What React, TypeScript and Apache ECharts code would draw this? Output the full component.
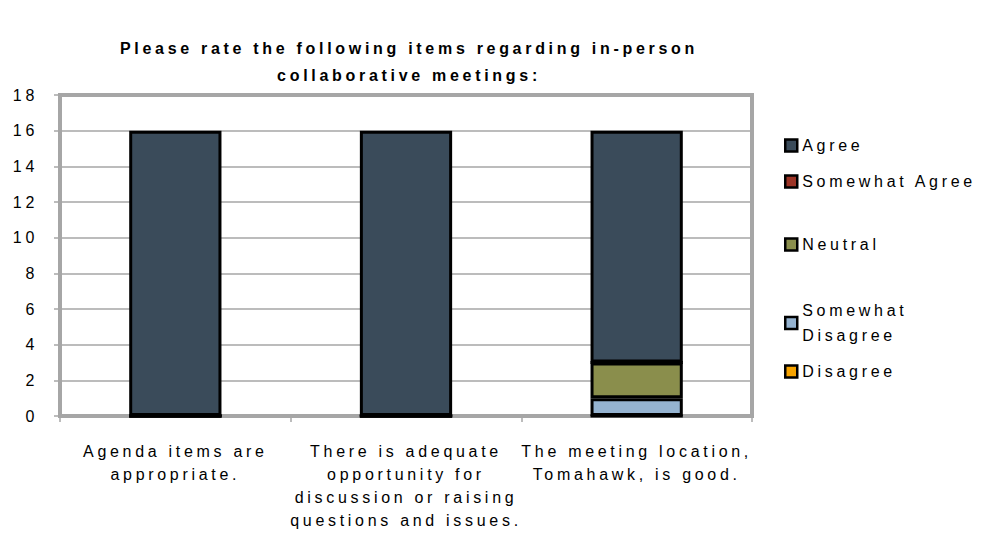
import React, { useEffect, useRef } from "react";
import * as echarts from "echarts";

const categories = [
  "Agenda items are\nappropriate.",
  "There is adequate\nopportunity for\ndiscussion or raising\nquestions and issues.",
  "The meeting location,\nTomahawk, is good.",
];
const seriesNames = ["Disagree", "Somewhat Disagree", "Neutral", "Somewhat Agree", "Agree"];
const disagree = [0, 0, 0];
const somewhatDisagree = [0, 0, 1];
const neutral = [0, 0, 2];
const somewhatAgree = [0, 0, 0];
const agree = [16, 16, 13];
const yTicks = { min: 0, max: 18, interval: 2 };
const titleText = "Please rate the following items regarding in-person\ncollaborative meetings:";

const colors: Record<string, string> = {
  Agree: "#3a4b5a",
  "Somewhat Agree": "#9c3426",
  Neutral: "#8a8e4c",
  "Somewhat Disagree": "#95b3d0",
  Disagree: "#f7a300",
};

const FONT = "'Liberation Sans', Arial, sans-serif";

export default function App() {
  const ref = useRef<HTMLDivElement>(null);
  useEffect(() => {
    if (!ref.current) return;
    const chart = echarts.init(ref.current, undefined, { renderer: "svg" });
    const values = [disagree, somewhatDisagree, neutral, somewhatAgree, agree];
    const legendPos: [string, number][] = [
      ["Agree", 133],
      ["Somewhat Agree", 169],
      ["Neutral", 232],
      ["Somewhat Disagree", 298],
      ["Disagree", 359],
    ];
    chart.setOption({
      animation: false,
      title: {
        text: titleText,
        left: 404,
        textAlign: "center",
        top: 30,
        textStyle: {
          fontFamily: FONT,
          fontWeight: "bold",
          fontSize: 16,
          lineHeight: 27,
          color: "#000",
        },
      },
      legend: legendPos.map(([name, top]) => ({
        data: [name],
        left: 784,
        top,
        orient: "vertical",
        itemWidth: 12,
        itemHeight: 12,
        icon: "rect",
        padding: 0,
        itemStyle: { borderColor: "#000", borderWidth: 2.5 },
        formatter: (n: string) => (n === "Somewhat Disagree" ? "Somewhat\nDisagree" : n),
        textStyle: { fontFamily: FONT, fontSize: 16, color: "#000", lineHeight: 25 },
      })),
      grid: {
        left: 60,
        top: 95,
        right: 231,
        bottom: 121,
        show: true,
        borderColor: "#a6a6a6",
        borderWidth: 4,
        backgroundColor: "#fff",
      },
      xAxis: {
        type: "category",
        data: categories,
        axisLine: { show: true, lineStyle: { color: "#a6a6a6", width: 4 } },
        axisTick: { show: true, length: 6, lineStyle: { color: "#a6a6a6", width: 1.5 } },
        axisLabel: {
          interval: 0,
          margin: 24,
          fontFamily: FONT,
          fontSize: 16,
          lineHeight: 23,
          color: "#000",
        },
      },
      yAxis: {
        type: "value",
        min: yTicks.min,
        max: yTicks.max,
        interval: yTicks.interval,
        axisLine: { show: true, lineStyle: { color: "#a6a6a6", width: 4 } },
        axisTick: { show: true, length: 6, lineStyle: { color: "#a6a6a6", width: 1.5 } },
        splitLine: { show: true, lineStyle: { color: "#a6a6a6", width: 1.5 } },
        axisLabel: { margin: 22, fontFamily: FONT, fontSize: 16, color: "#000" },
      },
      series: seriesNames.map((name, i) => ({
        name,
        type: "bar",
        stack: "total",
        barWidth: "40%",
        data: values[i],
        itemStyle: { color: colors[name], borderColor: "#000", borderWidth: 3 },
      })),
    });
    return () => chart.dispose();
  }, []);
  return (
    <>
      <style>{`#chart-root text { letter-spacing: 3.7px; }`}</style>
      <div
        id="chart-root"
        ref={ref}
        style={{ position: "fixed", left: 0, top: 0, width: 983, height: 537, background: "#fff" }}
      />
    </>
  );
}
